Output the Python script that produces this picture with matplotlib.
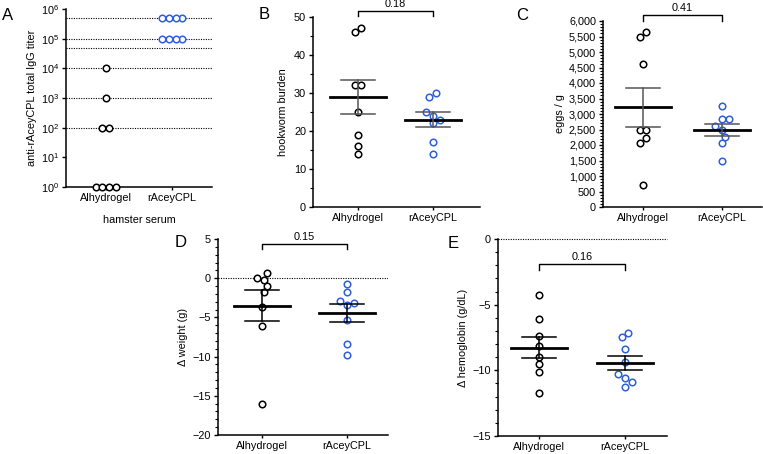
import numpy as np
import matplotlib
matplotlib.use("Agg")
import matplotlib.pyplot as plt
from matplotlib.ticker import MultipleLocator, FuncFormatter, FixedLocator, NullLocator

plt.rcParams["font.family"] = ["Liberation Sans", "DejaVu Sans"]
plt.rcParams["mathtext.fontset"] = "custom"
plt.rcParams["mathtext.rm"] = "Liberation Sans"
plt.rcParams["mathtext.default"] = "regular"

groups = ["Alhydrogel", "rAceyCPL"]

# A: antibody titers
titer_alh = [1e4, 1e3, 1e2, 1e2, 1, 1, 1, 1]
titer_cpl = [5e5, 5e5, 5e5, 5e5, 1e5, 1e5, 1e5, 1e5]
titer_lines = [5e5, 1e5, 5e4, 1e4, 1e3, 1e2]

# B: hookworm burden
worms_alh = [47, 46, 32, 32, 25, 19, 16, 14]
worms_cpl = [30, 29, 25, 24, 23, 22, 17, 14]

# C: eggs per gram
eggs_alh = [5650, 5480, 4620, 2480, 2480, 2220, 2070, 700]
eggs_cpl = [3250, 2830, 2830, 2615, 2476, 2272, 2069, 1500]

# D: weight change
weight_alh = [0.68, 0.04, -0.17, -1.0, -1.74, -3.64, -6.06, -16.0]
weight_cpl = [-0.72, -1.74, -2.92, -3.14, -3.47, -5.34, -8.35, -9.83]

# E: hemoglobin change
hb_alh = [-4.27, -6.08, -7.38, -8.14, -8.98, -9.49, -10.1, -11.7]
hb_cpl = [-7.18, -7.48, -8.40, -9.39, -10.28, -10.59, -10.92, -11.27]

pvals = {"B": "0.18", "C": "0.41", "D": "0.15", "E": "0.16"}

BLUE = "#2f5fd6"
W, H = 763, 454
fig = plt.figure(figsize=(W / 100, H / 100), dpi=100)


def px_axes(l, t, r, b):
    return fig.add_axes([l / W, 1 - b / H, (r - l) / W, (b - t) / H])


def swarm(ax, xc, vals, d=6.8):
    # simple beeswarm in display pixels, clusters centred on the category
    tr = ax.transData
    ypx = np.array([tr.transform((xc, v))[1] for v in vals])
    order = np.argsort(ypx)
    offs = np.zeros(len(vals))
    clusters = []
    cur = [order[0]]
    for i in order[1:]:
        if ypx[i] - ypx[cur[-1]] < d:
            cur.append(i)
        else:
            clusters.append(cur)
            cur = [i]
    clusters.append(cur)
    for cl in clusters:
        placed = []
        sign = 1
        for i in cl:
            cands = [0.0]
            for k in range(1, 12):
                cands += [sign * k * d / 2, -sign * k * d / 2]
            for c in cands:
                if all(np.hypot(c - px, ypx[i] - py) >= d * 0.98 for px, py in placed):
                    break
            placed.append((c, ypx[i]))
            offs[i] = c
            if c != 0:
                sign = -np.sign(c)
        xs = [p[0] for p in placed]
        mid = (min(xs) + max(xs)) / 2
        for i in cl:
            offs[i] -= mid
    # pixel offsets -> data units
    x0 = tr.transform((xc, 0))[0]
    x1 = tr.transform((xc + 1, 0))[0]
    return xc + offs / (x1 - x0)


def style(ax, xlim):
    for s in ["top", "right"]:
        ax.spines[s].set_visible(False)
    for s in ["left", "bottom"]:
        ax.spines[s].set_linewidth(1.1)
    ax.set_xlim(*xlim)
    ax.set_xticks([0, 1])
    ax.set_xticklabels(groups)
    ax.tick_params(axis="both", labelsize=7.8, length=3, width=1, pad=2)
    ax.tick_params(axis="y", which="minor", length=2, width=0.8)
    ax.tick_params(axis="x", length=2)


def dots(ax, data, px_per_unit, meanbar=True, err_color="#555555"):
    for k, vals in enumerate(data):
        col = "black" if k == 0 else BLUE
        xs = swarm(ax, k, vals)
        ax.plot(xs, vals, "o", mfc="white", mec=col, ms=4.7, mew=1.1,
                zorder=3, clip_on=False)
        if meanbar:
            m = np.mean(vals)
            se = np.std(vals, ddof=1) / np.sqrt(len(vals))
            hw = 28 / px_per_unit
            cw = 17 / px_per_unit
            ax.plot([k - hw, k + hw], [m, m], "k-", lw=2.0, zorder=4)
            ax.plot([k, k], [m - se, m + se], "-", color=err_color, lw=1.1, zorder=4)
            ax.plot([k - cw, k + cw], [m + se, m + se], "-", color=err_color, lw=1.1, zorder=4)
            ax.plot([k - cw, k + cw], [m - se, m - se], "-", color=err_color, lw=1.1, zorder=4)


def bracket(ax, ytop, ybot, label):
    ax.plot([0, 0, 1, 1], [ybot, ytop, ytop, ybot], "k-", lw=1.0, clip_on=False)
    ax.annotate(label, xy=(0.5, ytop), xytext=(0, 1.5), textcoords="offset points",
                ha="center", va="bottom", fontsize=7.8, annotation_clip=False)


# ---- A
axA = px_axes(66, 9, 212, 187)
axA.set_yscale("log")
axA.set_ylim(1, 1e6)
style(axA, (-0.6, 1.6))
axA.yaxis.set_minor_locator(NullLocator())
axA.yaxis.set_major_locator(FixedLocator([1e0, 1e1, 1e2, 1e3, 1e4, 1e5, 1e6]))
for v in titer_lines:
    axA.axhline(v, color="black", ls=(0, (1, 1.2)), lw=0.8, zorder=1)
dots(axA, [titer_alh, titer_cpl], 66, meanbar=False)
axA.set_ylabel("anti-rAceyCPL total IgG titer", fontsize=7.8, labelpad=3)
axA.set_xlabel("hamster serum", fontsize=7.8, labelpad=9)

# ---- B
axB = px_axes(313, 17, 480, 207)
axB.set_ylim(0, 50)
style(axB, (-0.6, 1.63))
axB.yaxis.set_major_locator(MultipleLocator(10))
axB.yaxis.set_minor_locator(MultipleLocator(5))
dots(axB, [worms_alh, worms_cpl], 75)
bracket(axB, 51.5, 50.2, pvals["B"])
axB.set_ylabel("hookworm burden", fontsize=7.8, labelpad=4)

# ---- C
axC = px_axes(603, 21, 762, 207)
axC.set_ylim(0, 6000)
style(axC, (-0.506, 1.506))
axC.yaxis.set_major_locator(MultipleLocator(500))
axC.yaxis.set_minor_locator(MultipleLocator(100))
axC.yaxis.set_major_formatter(FuncFormatter(lambda v, p: f"{int(v):,}"))
dots(axC, [eggs_alh, eggs_cpl], 79)
bracket(axC, 6181, 6000, pvals["C"])
axC.set_ylabel("eggs / g", fontsize=7.8, labelpad=3)

# ---- D
axD = px_axes(218, 239, 388, 435)
axD.set_ylim(-20, 5)
style(axD, (-0.52, 1.48))
axD.yaxis.set_major_locator(MultipleLocator(5))
axD.yaxis.set_minor_locator(MultipleLocator(1))
axD.axhline(0, color="black", ls=(0, (1, 1.2)), lw=0.8, zorder=1)
dots(axD, [weight_alh, weight_cpl], 85, err_color="black")
bracket(axD, 4.41, 3.68, pvals["D"])
axD.set_ylabel("\u0394 weight (g)", fontsize=7.8, labelpad=3)

# ---- E
axE = px_axes(498, 239, 667, 436)
axE.set_ylim(-15, 0)
style(axE, (-0.48, 1.49))
axE.yaxis.set_major_locator(MultipleLocator(5))
axE.yaxis.set_minor_locator(MultipleLocator(1))
axE.axhline(0, color="black", ls=(0, (1, 1.2)), lw=0.8, zorder=1, clip_on=False)
dots(axE, [hb_alh, hb_cpl], 86, err_color="black")
bracket(axE, -1.88, -2.34, pvals["E"])
axE.set_ylabel("\u0394 hemoglobin (g/dL)", fontsize=7.8, labelpad=3)

# panel letters
for lab, x, y in [("A", 2, 8), ("B", 259, 7), ("C", 516, 8), ("D", 175, 235), ("E", 448, 236)]:
    fig.text(x / W, 1 - y / H, lab, fontsize=12, ha="left", va="top")

fig.savefig("out.png", dpi=100)
